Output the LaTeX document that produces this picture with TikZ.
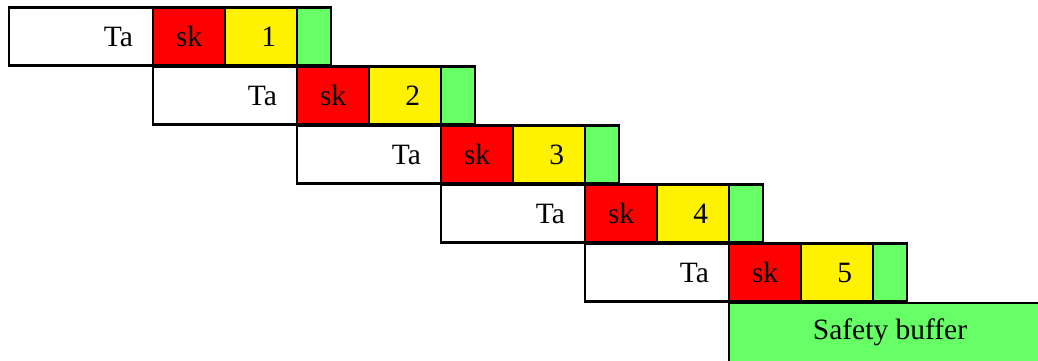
\documentclass[tikz,border=0pt]{standalone}
\usepackage{fontspec}
\setmainfont{Liberation Serif}
\begin{document}
\begin{tikzpicture}[x=1pt,y=-1pt,
  cell/.style={draw=black, line width=2.4pt, minimum height=58pt, inner sep=0pt,
    outer sep=0pt, anchor=north west, font=\fontsize{29.5}{34}\selectfont},
  tacell/.style={cell, fill=white, minimum width=144pt, text width=104pt, align=right},
  skcell/.style={cell, fill=red, minimum width=72pt},
  numcell/.style={cell, fill=yellow, minimum width=72pt, text width=30pt, align=right},
  bufcell/.style={cell, fill=buffergreen, minimum width=34pt},
  safecell/.style={cell, fill=buffergreen, minimum width=322pt, minimum height=59pt}
]
\definecolor{buffergreen}{HTML}{66FF66}
\useasboundingbox (0,0) rectangle (1038,360);
\clip (0,0) rectangle (1038,360);
\foreach \i in {0,...,4} {
  \pgfmathsetmacro{\xo}{9+144*\i}
  \pgfmathsetmacro{\yo}{7.5+59*\i}
  \pgfmathtruncatemacro{\n}{\i+1}
  \node[tacell] (ta\n) at (\xo,\yo) {Ta};
  \node[skcell] (sk\n) at (ta\n.north east) {sk};
  \node[numcell] (num\n) at (sk\n.north east) {\n};
  \node[bufcell] (buf\n) at (num\n.north east) {};
}
\node[safecell] (safety) at (729,303) {Safety buffer};
\end{tikzpicture}
\end{document}
